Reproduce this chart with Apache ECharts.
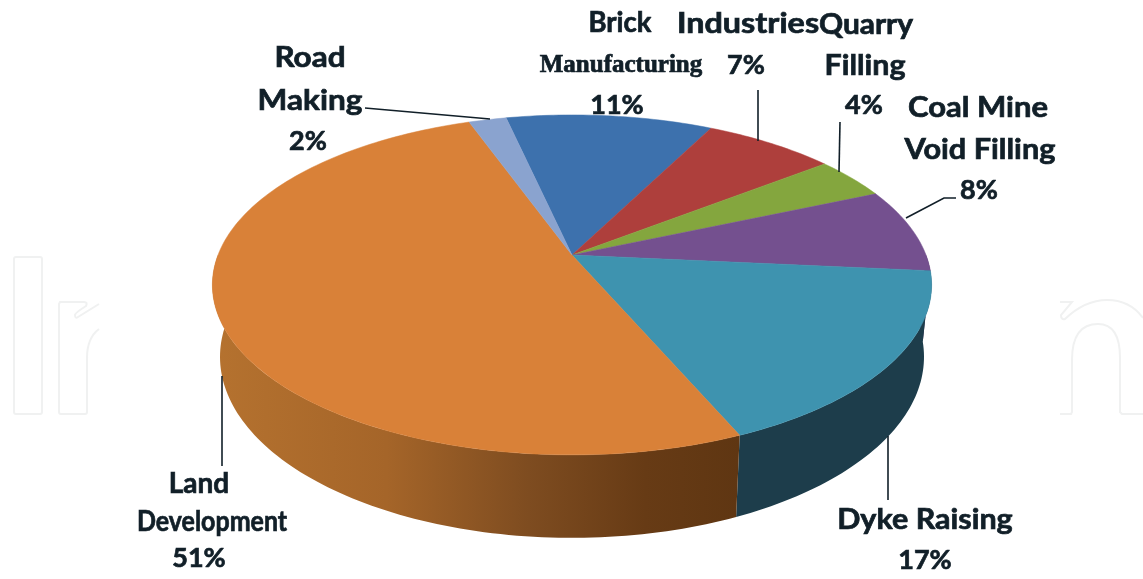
<!DOCTYPE html>
<html>
<head>
<meta charset="utf-8">
<style>html,body{margin:0;padding:0;background:#fff}#chart{width:1143px;height:579px}</style>
<script src="https://cdn.jsdelivr.net/npm/echarts@6/dist/echarts.min.js"></script>
</head>
<body>
<div id="chart"></div>
<script>
// Share of ash utilisation by sector, in percent, clockwise from the top.
const categories = ["Brick Manufacturing", "Industries", "Quarry Filling", "Coal Mine Void Filling", "Dyke Raising", "Land Development", "Road Making"];
const values = [11, 7, 4, 8, 17, 51, 2];
const faceColors = ["#3d71ad", "#ae3f3c", "#84a63e", "#74508f", "#3e93af", "#d98138", "#8aa3cf"];
const wallColors = ["#234268", "#6b2523", "#506526", "#452f57", "#1d3d4b", null, "#53627f"];
const startPercent = -3.5;

// Projection of the tilted disc: two circles (top rim, bottom rim) under perspective.
const k = 0.176, cx = 572;
const topRim = { cy: 255, R: 354, Ry: 164.7 };
const baseRim = { cy: 325, R: 346.5, Ry: 175.4 };
function project(theta, rim) {
  const u = Math.sin(theta), v = -Math.cos(theta), w = 1 - k * v;
  return [cx + rim.R * u / w, rim.cy + rim.Ry * v / w];
}
function sliceAngles(i) {
  const total = values.reduce((a, b) => a + b, 0);
  let before = startPercent;
  for (let j = 0; j < i; j++) before += values[j];
  return [before / total * 2 * Math.PI, (before + values[i]) / total * 2 * Math.PI];
}
function arcPoints(a0, a1, rim) {
  const n = Math.max(2, Math.ceil(Math.abs(a1 - a0) / 0.02));
  const pts = [];
  for (let t = 0; t <= n; t++) pts.push(project(a0 + (a1 - a0) * t / n, rim));
  return pts;
}
const landWall = new echarts.graphic.LinearGradient(0, 0, 1, 0, [
  { offset: 0, color: "#b5722f" },
  { offset: 0.33, color: "#a56529" },
  { offset: 0.6, color: "#7e4c20" },
  { offset: 0.82, color: "#673b15" },
  { offset: 1, color: "#5f3612" }
]);
function renderWall(params) {
  const i = params.dataIndex;
  const [a0, a1] = sliceAngles(i);
  const lo = Math.PI / 2, hi = 3 * Math.PI / 2;
  const s = Math.max(a0, lo), e = Math.min(a1, hi);
  if (e <= s) return { type: "group", children: [] };
  const points = arcPoints(s, e, topRim).concat(arcPoints(e, s, baseRim));
  return { type: "polygon", shape: { points }, style: { fill: wallColors[i] || landWall, stroke: null } };
}
function renderFace(params) {
  const i = params.dataIndex;
  const [a0, a1] = sliceAngles(i);
  const points = [[cx, topRim.cy]].concat(arcPoints(a0, a1, topRim));
  return { type: "polygon", shape: { points }, style: { fill: faceColors[i], stroke: faceColors[i], lineWidth: 0.5 } };
}

// Label text and placement, one entry per category: [x, y, font size, horizontal stretch] per line.
const labelLines = [["Brick", "Manufacturing"], ["Industries"], ["Quarry", "Filling"], ["Coal Mine", "Void Filling"], ["Dyke Raising"], ["Land", "Development"], ["Road", "Making"]];
const labelPlaces = [
  [[620, 23, 28, 0.98], [621, 66, 25, 1], [617, 105, 27, 1]],
  [[748, 24, 28, 1.155], [746, 65, 27, 1]],
  [[866, 25, 28, 1.068], [865, 66, 28, 1.087], [864, 105, 27, 1]],
  [[978, 108, 28, 1.107], [980, 150, 28, 1.096], [979, 190, 27, 1]],
  [[925, 520, 28, 1.089], [925, 560, 27, 1]],
  [[199, 484, 28, 1], [212, 522, 28, 0.892], [199, 558, 27, 1]],
  [[310, 58, 28, 1.125], [310, 101, 28, 1.127], [308, 141, 27, 1]]
];
const leaderPaths = [
  "M758 90L758 141", "M840 122L839 172", "M906 218L944 198L956 198",
  "M888 436L888 500", "M222 376L222 466", "M365 108L490 119"
];
const watermarkPaths = [
  "M16 257L40 257Q42 257 42 259L42 412Q42 414 40 414L16 414Q14 414 14 412L14 259Q14 257 16 257Z",
  "M99 304L78 317Q75 319 75 315Q75 313 86 306Q88 302 84 302L60 302L59 304L59 412Q59 414 61 414L85 414Q87 414 87 412L87 358Q87 338 99 329",
  "M1060 302L1072 302L1061 315Q1061 320 1065 319Q1085 300 1107 300Q1130 300 1143 318",
  "M1060 414L1071 414L1072 412L1072 360Q1072 324 1098 324Q1120 324 1120 358L1120 412L1122 414L1143 414"
];
const ink = "#111f28";
function strokePaths(paths, stroke, lineWidth) {
  return function () {
    return {
      type: "group",
      children: paths.map(d => ({
        type: "path", shape: { pathData: d },
        style: { fill: "none", stroke, lineWidth }
      }))
    };
  };
}
const graphics = [];
labelLines.forEach((lines, i) => {
  lines.concat([values[i] + "%"]).forEach((text, j) => {
    const serif = text === "Manufacturing";
    const [x, y, size, stretch] = labelPlaces[i][j];
    graphics.push({
      type: "text", silent: true, z: 10, x, y, scaleX: stretch,
      style: {
        text, fill: ink, align: "center", verticalAlign: "middle",
        stroke: ink, lineWidth: 0.7,
        font: serif ? "bold " + size + "px 'Liberation Serif'" : "bold " + size + "px Lato"
      }
    });
  });
});

const chart = echarts.init(document.getElementById("chart"), null, { renderer: "canvas" });
chart.setOption({
  animation: false,
  backgroundColor: "#ffffff",
  graphic: { elements: graphics },
  series: [
    { type: "custom", name: "watermark", coordinateSystem: "none", silent: true, z: 1, data: [0], renderItem: strokePaths(watermarkPaths, "#f0f1f1", 2) },
    { type: "custom", name: "side", coordinateSystem: "none", silent: true, z: 2, data: values, renderItem: renderWall },
    { type: "custom", name: "top", coordinateSystem: "none", silent: true, z: 3, data: values, renderItem: renderFace },
    { type: "custom", name: "leaders", coordinateSystem: "none", silent: true, z: 4, data: [0], renderItem: strokePaths(leaderPaths, ink, 1.6) }
  ]
});
</script>
</body>
</html>
